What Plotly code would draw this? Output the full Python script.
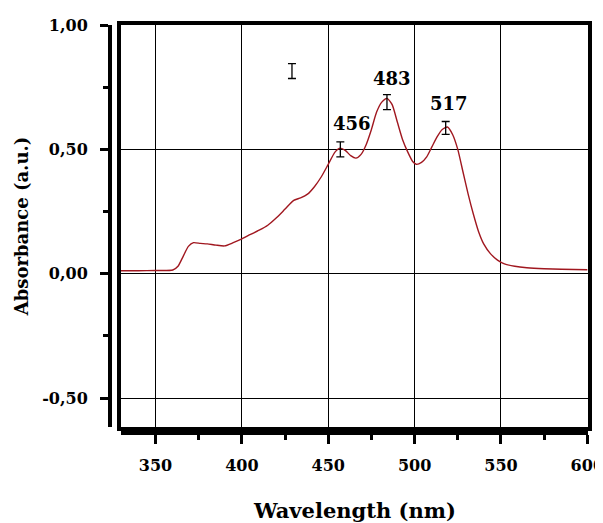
import plotly.graph_objects as go

# Spectrum
wavelength = [330, 340, 350, 360, 363, 366, 369, 372, 376, 380, 385, 390, 395, 400, 405, 410,
              415, 420, 425, 430, 434, 438, 442, 446, 450, 454, 457, 460, 463, 466, 469, 472,
              475, 478, 481, 484, 487, 490, 493, 496, 499, 501, 504, 507, 510, 513, 516, 519,
              522, 525, 528, 531, 534, 537, 540, 544, 548, 552, 558, 565, 575, 585, 600]
absorbance = [0.012, 0.012, 0.013, 0.015, 0.03, 0.07, 0.11, 0.125, 0.122, 0.12, 0.115, 0.112,
              0.125, 0.14, 0.158, 0.175, 0.195, 0.225, 0.26, 0.295, 0.305, 0.32, 0.35, 0.39,
              0.44, 0.49, 0.505, 0.495, 0.475, 0.465, 0.48, 0.52, 0.58, 0.65, 0.69, 0.705,
              0.68, 0.61, 0.54, 0.49, 0.45, 0.44, 0.448, 0.47, 0.51, 0.55, 0.58, 0.59, 0.56,
              0.5, 0.41, 0.32, 0.24, 0.17, 0.12, 0.08, 0.055, 0.04, 0.03, 0.024, 0.02, 0.018,
              0.016]

# Peaks with error bars
peak_wl = [457, 484, 518]
peak_abs = [0.50, 0.69, 0.586]
peak_err = [0.03, 0.03, 0.026]
peak_labels = ["456", "483", "517"]
label_y = [0.605, 0.785, 0.685]
label_x = [464, 487, 520]

# Legend-style error bar sample
sample_wl = [429]
sample_abs = [0.815]
sample_err = [0.03]

x_ticks = [350, 400, 450, 500, 550, 600]
y_ticks = [-0.5, 0.0, 0.5, 1.0]
y_ticktext = ["-0,50", "0,00", "0,50", "1,00"]
x_title = "Wavelength (nm)"
y_title = "Absorbance (a.u.)"

FONT = "DejaVu Serif"
curve_color = "#a0171f"

fig = go.Figure()
fig.add_trace(go.Scatter(x=wavelength, y=absorbance, mode="lines",
                         line=dict(color=curve_color, width=1.4, shape="spline", smoothing=0.6),
                         showlegend=False, hoverinfo="skip"))
fig.add_trace(go.Scatter(x=peak_wl, y=peak_abs, mode="markers",
                         marker=dict(size=0.1, color="black"),
                         error_y=dict(type="data", array=peak_err, color="black", thickness=1.3, width=4),
                         showlegend=False, hoverinfo="skip"))
fig.add_trace(go.Scatter(x=sample_wl, y=sample_abs, mode="markers", xaxis="x2", yaxis="y2",
                         marker=dict(size=0.1, color="black"),
                         error_y=dict(type="data", array=sample_err, color="black", thickness=1.3, width=4),
                         showlegend=False, hoverinfo="skip"))

for t, xx, yy in zip(peak_labels, label_x, label_y):
    fig.add_annotation(x=xx, y=yy, xref="x", yref="y", text=t, showarrow=False,
                       font=dict(family=FONT, size=18, color="black", weight="bold"))

# x-axis title placed below the offset axis
fig.add_annotation(x=0.512, y=-0.19, xref="paper", yref="paper", text=x_title,
                   showarrow=False, xanchor="center", yanchor="middle",
                   font=dict(family=FONT, size=21, color="black", weight="bold"))

xr = [330, 600.4]
yr = [-0.616, 1.0]
xdom = [0.023, 1.0]
ydom = [0.0147, 1.0]

fig.update_layout(
    width=595, height=515,
    margin=dict(l=102, r=15, t=17, b=90),
    paper_bgcolor="white", plot_bgcolor="white",
    showlegend=False,
    xaxis=dict(range=xr, domain=xdom, showgrid=True, gridcolor="black", gridwidth=1.3,
               tickvals=x_ticks, showticklabels=False, ticks="", zeroline=False,
               showline=True, mirror=True, linecolor="black", linewidth=3.5),
    yaxis=dict(range=yr, domain=ydom, showgrid=True, gridcolor="black", gridwidth=1.3,
               tickvals=y_ticks, showticklabels=False, ticks="", zeroline=False,
               showline=True, mirror=True, linecolor="black", linewidth=3.5),
    xaxis2=dict(range=xr, overlaying="x", anchor="free", position=0, showgrid=False,
                zeroline=False, showline=True, linecolor="black", linewidth=4,
                tickvals=x_ticks, ticks="outside", ticklen=9, tickwidth=3, tickcolor="black",
                minor=dict(tickvals=[375, 425, 475, 525, 575], ticks="outside", ticklen=5,
                           tickwidth=3, tickcolor="black"),
                tickfont=dict(family=FONT, size=16, color="black", weight="bold"),
                ticklabelstandoff=8, ticklabeloverflow="allow",
                automargin=False),
    yaxis2=dict(range=yr, overlaying="y", anchor="free", position=0, showgrid=False,
                zeroline=False, showline=True, linecolor="black", linewidth=4,
                tickvals=y_ticks, ticktext=y_ticktext, ticks="outside", ticklen=8, tickwidth=3,
                tickcolor="black", ticklabeloverflow="allow", ticklabelstandoff=9,
                minor=dict(tickvals=[-0.25, 0.25, 0.75], ticks="outside", ticklen=5,
                           tickwidth=3, tickcolor="black"),
                tickfont=dict(family=FONT, size=16, color="black", weight="bold"),
                title=dict(text=y_title, standoff=8,
                           font=dict(family=FONT, size=18, color="black", weight="bold")),
                automargin=False),
)

fig.write_html("out.html")
